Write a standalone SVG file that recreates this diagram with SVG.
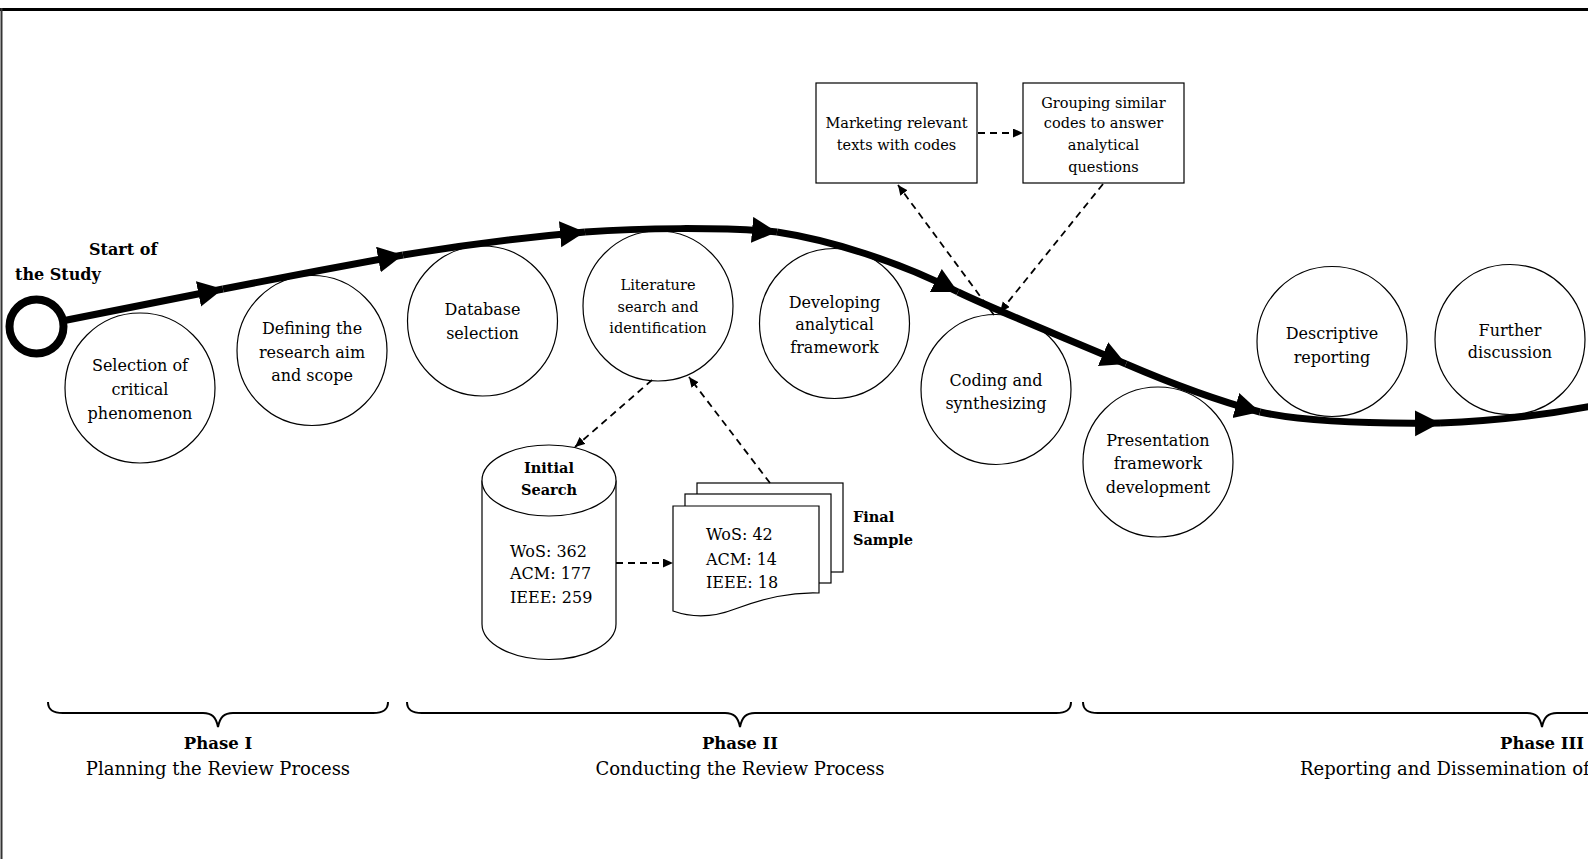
<svg xmlns="http://www.w3.org/2000/svg" width="1588" height="859" viewBox="0 0 1588 859">
<defs>
<style>
.c{fill:#fff;stroke:#000;stroke-width:1.2}
.t{font-family:"DejaVu Serif","Liberation Serif",serif;font-size:16px;fill:#000;text-anchor:middle}
.s{font-size:14.5px}
.l{text-anchor:start}
.b{font-weight:bold}
.main{fill:none;stroke:#000;stroke-width:7;marker-end:url(#ah)}
.d{fill:none;stroke:#000;stroke-width:1.8;stroke-dasharray:7 5}
.br{fill:none;stroke:#000;stroke-width:2}
</style>
<marker id="ah" markerUnits="userSpaceOnUse" markerWidth="28" markerHeight="28" refX="25" refY="13" orient="auto"><path d="M0,0 L25,13 L0,26 z" fill="#000"/></marker>
<marker id="da" markerUnits="userSpaceOnUse" markerWidth="12" markerHeight="10" refX="10" refY="4.5" orient="auto"><path d="M0,0 L10,4.5 L0,9 z" fill="#000"/></marker>
</defs>
<rect width="1588" height="859" fill="#fff"/>
<path d="M0,9.5 H1588" stroke="#000" stroke-width="3"/>
<path d="M1.5,8 V859" stroke="#333" stroke-width="2"/>

<g id="n-selection"><circle class="c" cx="140" cy="388" r="75"/>
<text class="t" x="140" y="370.5">Selection of</text><text class="t" x="140" y="394.5">critical</text><text class="t" x="140" y="418.5">phenomenon</text></g>
<g id="n-defining"><circle class="c" cx="312" cy="350.5" r="75"/>
<text class="t" x="312" y="333.5">Defining the</text><text class="t" x="312" y="357.5">research aim</text><text class="t" x="312" y="380.5">and scope</text></g>
<g id="n-database"><circle class="c" cx="482.5" cy="321" r="75"/>
<text class="t" x="482.5" y="314.5">Database</text><text class="t" x="482.5" y="338.5">selection</text></g>
<g id="n-literature"><circle class="c" cx="658" cy="306" r="75"/>
<text class="t s" x="658" y="290">Literature</text><text class="t s" x="658" y="312">search and</text><text class="t s" x="658" y="333">identification</text></g>
<g id="n-developing"><circle class="c" cx="834.5" cy="323.5" r="75"/>
<text class="t" x="834.5" y="307.5">Developing</text><text class="t" x="834.5" y="329.5">analytical</text><text class="t" x="834.5" y="352.5">framework</text></g>
<g id="n-coding"><circle class="c" cx="996" cy="389.5" r="75"/>
<text class="t" x="996" y="385.5">Coding and</text><text class="t" x="996" y="408.5">synthesizing</text></g>
<g id="n-presentation"><circle class="c" cx="1158" cy="462" r="75"/>
<text class="t" x="1158" y="445.5">Presentation</text><text class="t" x="1158" y="468.5">framework</text><text class="t" x="1158" y="492.5">development</text></g>
<g id="n-descriptive"><circle class="c" cx="1332" cy="341.5" r="75"/>
<text class="t" x="1332" y="338.5">Descriptive</text><text class="t" x="1332" y="362.5">reporting</text></g>
<g id="n-further"><circle class="c" cx="1510" cy="339.5" r="75"/>
<text class="t" x="1510" y="335.5">Further</text><text class="t" x="1510" y="357.5">discussion</text></g>

<g id="n-marketing"><rect class="c" x="816" y="83" width="161" height="100"/>
<text class="t s" x="896.5" y="128">Marketing relevant</text><text class="t s" x="896.5" y="150">texts with codes</text></g>
<g id="n-grouping"><rect class="c" x="1023" y="83" width="161" height="100"/>
<text class="t s" x="1103.5" y="108">Grouping similar</text><text class="t s" x="1103.5" y="128">codes to answer</text><text class="t s" x="1103.5" y="150">analytical</text><text class="t s" x="1103.5" y="172">questions</text></g>

<g id="n-initial"><path class="c" d="M482,480.5 V624 A67,35.5 0 0 0 616,624 V480.5"/>
<ellipse class="c" cx="549" cy="480.5" rx="67" ry="35.5"/>
<text class="t b" style="font-size:14.5px" x="549" y="473">Initial</text><text class="t b" style="font-size:14.5px" x="549" y="495">Search</text>
<text class="t l" x="510" y="556.5">WoS: 362</text><text class="t l" x="510" y="578.5">ACM: 177</text><text class="t l" x="510" y="602.5">IEEE: 259</text></g>

<g id="n-final"><rect class="c" x="697" y="483" width="146" height="89"/>
<rect class="c" x="685" y="494" width="146" height="89"/>
<path class="c" d="M673,506 H819 V593 C790,592 765,598 735,609 C712,618 690,617 673,611 Z"/>
<text class="t l" x="706" y="539.5">WoS: 42</text><text class="t l" x="706" y="564.5">ACM: 14</text><text class="t l" x="706" y="587.5">IEEE: 18</text>
<text class="t b l" style="font-size:14.5px" x="853" y="522">Final</text><text class="t b l" style="font-size:14.5px" x="853" y="545">Sample</text></g>

<g id="connectors">
<path class="main" d="M62,321 L223,289"/>
<path class="main" d="M223,289 Q310,272 403,255"/>
<path class="main" d="M403,255 Q495,240 585,232"/>
<path class="main" d="M585,232 C640,228 720,227 777,232"/>
<path class="main" d="M777,232 C830,240 900,262 958,292"/>
<path class="main" d="M958,292 C995,310 1075,342 1126,364"/>
<path class="main" d="M1126,364 C1170,383 1215,400 1260,412"/>
<path class="main" d="M1260,412 C1300,421 1360,424 1440,423"/>
<path fill="none" stroke="#000" stroke-width="7" d="M1440,423 C1500,421 1550,414 1592,406"/>
<path class="d" marker-end="url(#da)" d="M978,133 L1023,133"/>
<path class="d" marker-end="url(#da)" d="M994,315 L898,185"/>
<path class="d" marker-end="url(#da)" d="M1103,184 L1000,312"/>
<path class="d" marker-end="url(#da)" d="M652,380 L575,447"/>
<path class="d" marker-end="url(#da)" d="M770,483 L689,377"/>
<path class="d" marker-end="url(#da)" d="M616,563 L673,563"/>
</g>

<g id="n-start"><circle cx="36.5" cy="326.5" r="27" fill="#fff" stroke="#000" stroke-width="8"/>
<text class="t b l" x="89" y="255">Start  of</text><text class="t b l" x="15" y="280">the Study</text></g>

<g id="phases">
<path class="br" d="M48,702 C48,710 53,713 63,713 H203 C212,713 216,717 218,727 C220,717 224,713 233,713 H373 C383,713 388,710 388,702"/>
<path class="br" d="M407,702 C407,710 412,713 422,713 H725 C734,713 738,717 740,727 C742,717 746,713 755,713 H1056 C1066,713 1071,710 1071,702"/>
<path class="br" d="M1083,702 C1083,710 1088,713 1098,713 H1527 C1536,713 1540,717 1542,727 C1544,717 1548,713 1557,713 H1986 C1996,713 2001,710 2001,702"/>
<text class="t b" style="font-size:16.5px" x="218" y="749">Phase I</text>
<text class="t" style="font-size:18px" x="218" y="775">Planning the Review Process</text>
<text class="t b" style="font-size:16.5px" x="740" y="749">Phase II</text>
<text class="t" style="font-size:18px" x="740" y="775">Conducting the Review Process</text>
<text class="t b" style="font-size:16.5px" x="1542" y="749">Phase III</text>
<text class="t l" style="font-size:18px" x="1300" y="775">Reporting and Dissemination of</text>
</g>
</svg>
